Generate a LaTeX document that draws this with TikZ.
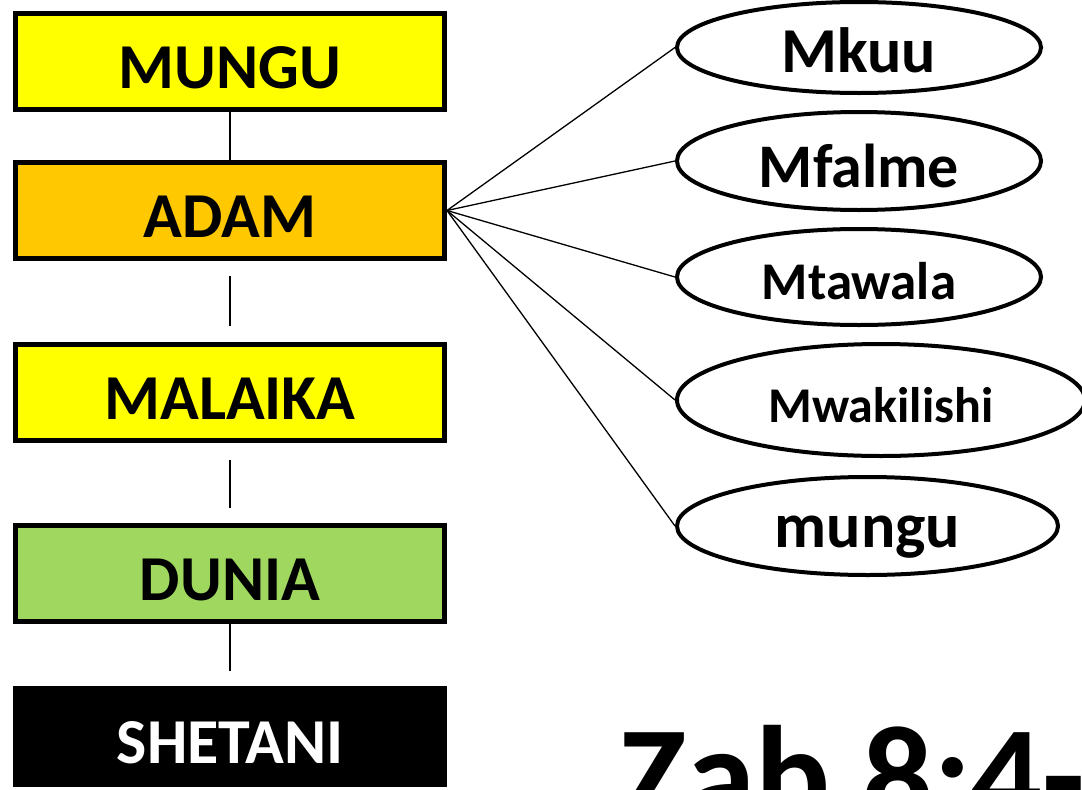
\documentclass[tikz,border=0pt]{standalone}
\usepackage{fontspec}
\setmainfont{Carlito}
\usetikzlibrary{shapes.geometric}
\usetikzlibrary{positioning}
\definecolor{godyellow}{HTML}{FFFF00}
\definecolor{adamgold}{HTML}{FFC800}
\definecolor{worldgreen}{HTML}{9FD75F}
\tikzset{
    every node/.style={font=\bfseries},
    level node/.style={draw,rectangle,line width=5pt,minimum width=429pt,minimum height=96pt,inner sep=0pt,text height=53pt,text depth=0pt,font=\fontsize{64}{64}\selectfont\bfseries},
    role node/.style={draw,ellipse,line width=4pt,inner sep=0pt,text depth=0pt}
}

\begin{document}
\begin{tikzpicture}[x=1pt,y=-1pt,line width=1.3pt]

    \useasboundingbox (0,0) rectangle (1082,790);

    \node[level node,fill=godyellow] (1) at (230,61.5) {MUNGU};
    \node[level node,fill=adamgold] (2) [below=48pt of 1] {ADAM};
    \node[level node,fill=godyellow] (3) [below=81pt of 2] {MALAIKA};
    \node[level node,fill=worldgreen] (4) [below=80pt of 3] {DUNIA};
    \node[level node,fill=black,text=white,text height=54pt] (5) [below=62pt of 4] {SHETANI};

    \node[role node,minimum width=364pt,minimum height=91pt,text height=49pt,font=\fontsize{64}{64}\selectfont\bfseries] (6) at (859,47.5) {Mkuu};
    \node[role node,minimum width=364pt,minimum height=98pt,text height=52pt,font=\fontsize{62}{62}\selectfont\bfseries] (7) at (859,161) {Mfalme};
    \node[role node,minimum width=364pt,minimum height=96pt,text height=44pt,font=\fontsize{53}{53}\selectfont\bfseries] (8) at (859,277) {Mtawala};
    \node[role node,minimum width=408pt,minimum height=112pt,text height=44pt,font=\fontsize{50}{50}\selectfont\bfseries] (9) at (881,400) {Mwakilishi};
    \node[role node,minimum width=381pt,minimum height=98pt,text height=42pt,font=\fontsize{64}{64}\selectfont\bfseries] (10) at (867.5,526) {mungu};

    \draw (1) -- (2);
    \draw[shorten <=15pt,shorten >=16pt] (2) -- (3);
    \draw[shorten <=17pt,shorten >=15pt] (3) -- (4);
    \draw[shorten >=15pt] (4) -- (5);

    \draw (2.east) -- (6.west);
    \draw (2.east) -- (7.west);
    \draw (2.east) -- (8.west);
    \draw (2.east) -- (9.west);
    \draw (2.east) -- (10.west);

    \node[anchor=base west,font=\fontsize{140}{140}\selectfont\bfseries] (11) at (616,823) {Zab 8:4-6};

\end{tikzpicture}
\end{document}
